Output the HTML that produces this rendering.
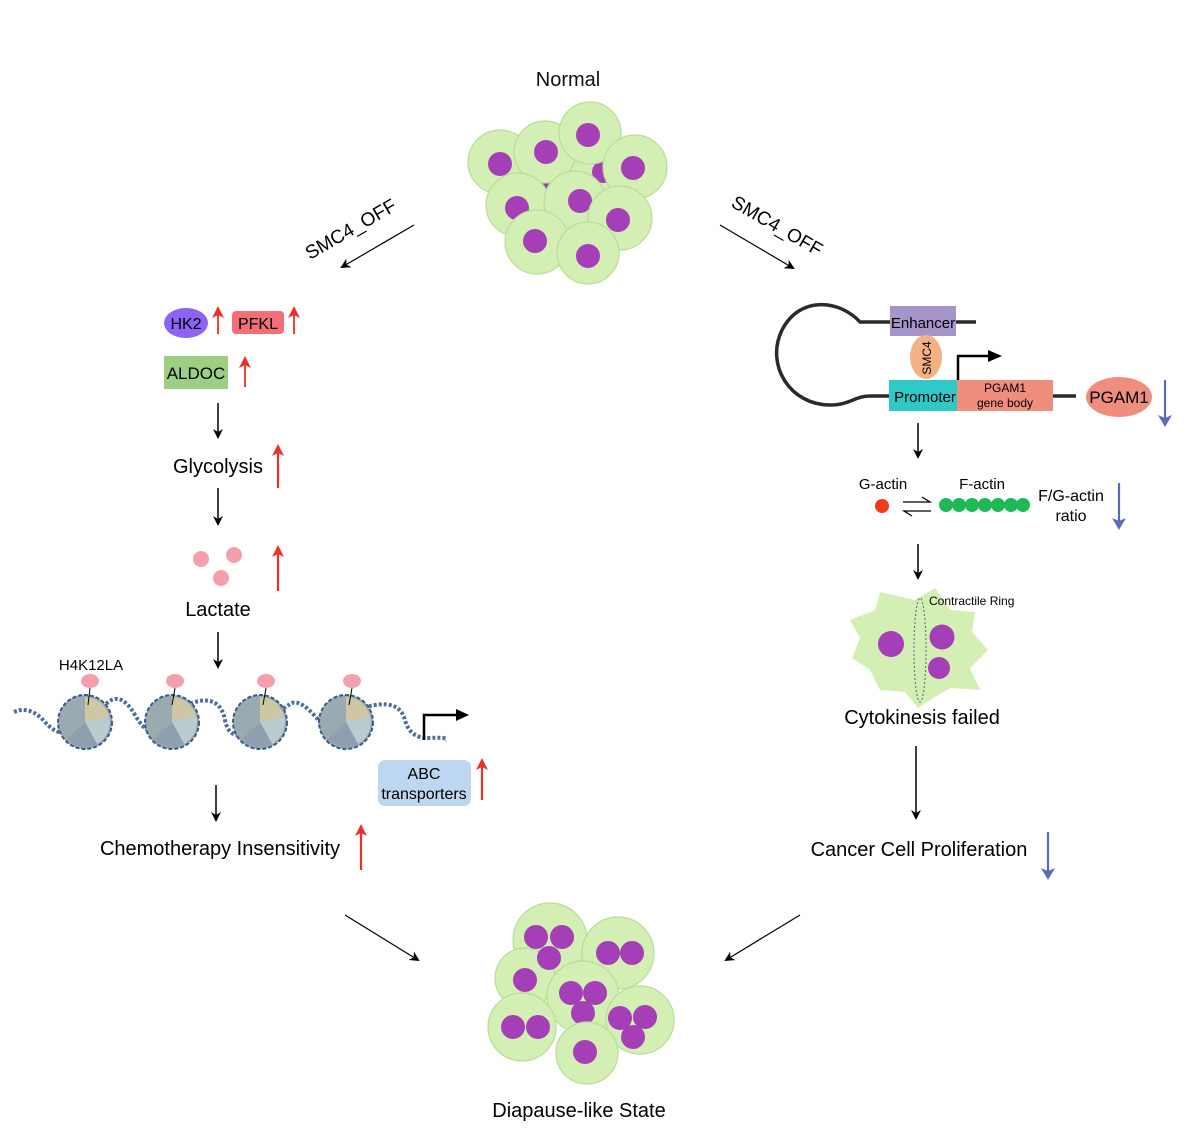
<!DOCTYPE html>
<html><head><meta charset="utf-8"><style>
html,body{margin:0;padding:0;background:#fff}
svg{display:block;font-family:"Liberation Sans",Arial,sans-serif}
</style></head><body>
<svg width="1191" height="1129" viewBox="0 0 1191 1129" xmlns="http://www.w3.org/2000/svg">
<defs>
<marker id="ab" markerWidth="10" markerHeight="10" refX="8" refY="5" orient="auto" markerUnits="userSpaceOnUse"><path d="M0,0 L10,5 L0,10 L3,5 z" fill="#000"/></marker>
<marker id="ar" markerWidth="12" markerHeight="12" refX="10" refY="6" orient="auto" markerUnits="userSpaceOnUse"><path d="M0,0 L12,6 L0,12 L3,6 z" fill="#e8322c"/></marker>
<marker id="abl" markerWidth="12" markerHeight="14" refX="10" refY="7" orient="auto" markerUnits="userSpaceOnUse"><path d="M0,0 L12,7 L0,14 L3,7 z" fill="#5b6bb8"/></marker>
</defs>
<g font-size="20" fill="#111">
<text x="568" y="86" text-anchor="middle">Normal</text>
</g>
<!-- top cluster -->
<g stroke="#b9dc98" stroke-width="1.2" fill="#d3efb4">
<circle cx="550" cy="185" r="30"/><circle cx="597" cy="172" r="30"/>
</g>
<g fill="#a43fb7"><circle cx="553" cy="185" r="11"/><circle cx="603" cy="172" r="11"/></g>
<g stroke="#b9dc98" stroke-width="1.2">
<g><circle cx="500" cy="162" r="32" fill="#d3efb4"/><circle cx="500" cy="164" r="12" fill="#a43fb7" stroke="none"/></g>
<g><circle cx="545" cy="152" r="31" fill="#d3efb4"/><circle cx="546" cy="152" r="12" fill="#a43fb7" stroke="none"/></g>
<g><circle cx="590" cy="133" r="31" fill="#d3efb4"/><circle cx="588" cy="135" r="12" fill="#a43fb7" stroke="none"/></g>
<g><circle cx="635" cy="167" r="32" fill="#d3efb4"/><circle cx="633" cy="168" r="12" fill="#a43fb7" stroke="none"/></g>
<g><circle cx="518" cy="205" r="32" fill="#d3efb4"/><circle cx="517" cy="208" r="12" fill="#a43fb7" stroke="none"/></g>
<g><circle cx="575" cy="202" r="31" fill="#d3efb4"/><circle cx="580" cy="201" r="12" fill="#a43fb7" stroke="none"/></g>
<g><circle cx="620" cy="218" r="32" fill="#d3efb4"/><circle cx="618" cy="220" r="12" fill="#a43fb7" stroke="none"/></g>
<g><circle cx="537" cy="242" r="32" fill="#d3efb4"/><circle cx="535" cy="241" r="12" fill="#a43fb7" stroke="none"/></g>
<g><circle cx="588" cy="253" r="31" fill="#d3efb4"/><circle cx="588" cy="256" r="12" fill="#a43fb7" stroke="none"/></g>
</g>
<!-- SMC4_OFF arrows -->
<line x1="414" y1="225" x2="342" y2="267" stroke="#000" stroke-width="1.2" marker-end="url(#ab)"/>
<text x="0" y="0" font-size="19" transform="translate(310,260) rotate(-30)">SMC4_OFF</text>
<line x1="720" y1="225" x2="793" y2="268" stroke="#000" stroke-width="1.2" marker-end="url(#ab)"/>
<text x="0" y="0" font-size="19" transform="translate(730,206) rotate(30)">SMC4_OFF</text>

<!-- left column -->
<ellipse cx="186" cy="323" rx="22" ry="15" fill="#8b63f5"/>
<text x="186" y="329" font-size="16" text-anchor="middle">HK2</text>
<rect x="232" y="311" width="52" height="23" rx="4" fill="#f36f77"/>
<text x="258" y="329" font-size="16" text-anchor="middle">PFKL</text>
<rect x="164" y="356" width="64" height="33" fill="#9ccf84"/>
<text x="196" y="379" font-size="17" text-anchor="middle">ALDOC</text>
<g stroke="#e8322c" stroke-width="1.8">
<line x1="218" y1="334" x2="218" y2="308" marker-end="url(#ar)"/>
<line x1="294" y1="334" x2="294" y2="308" marker-end="url(#ar)"/>
<line x1="245" y1="387" x2="245" y2="358" marker-end="url(#ar)"/>
</g>
<g stroke="#000" stroke-width="1.5">
<line x1="218" y1="403" x2="218" y2="437" marker-end="url(#ab)"/>
<line x1="218" y1="488" x2="218" y2="524" marker-end="url(#ab)"/>
<line x1="218" y1="632" x2="218" y2="667" marker-end="url(#ab)"/>
<line x1="216" y1="785" x2="216" y2="820" marker-end="url(#ab)"/>
</g>
<text x="218" y="473" font-size="20" text-anchor="middle">Glycolysis</text>
<g stroke="#e8322c" stroke-width="2.2">
<line x1="278" y1="488" x2="278" y2="446" marker-end="url(#ar)"/>
<line x1="278" y1="591" x2="278" y2="547" marker-end="url(#ar)"/>
<line x1="482" y1="800" x2="482" y2="760" marker-end="url(#ar)"/>
<line x1="361" y1="870" x2="361" y2="826" marker-end="url(#ar)"/>
</g>
<g fill="#f3a0ac"><circle cx="201" cy="559" r="8"/><circle cx="234" cy="555" r="8"/><circle cx="221" cy="578" r="8"/></g>
<text x="218" y="616" font-size="20" text-anchor="middle">Lactate</text>
<text x="91" y="670" font-size="15" text-anchor="middle">H4K12LA</text>
<!-- DNA -->
<path d="M14,712 Q30,705 45,722 T75,730 T105,705 T135,715 T160,725 T195,702 T225,720 T255,728 T290,704 T320,722 T345,728 T375,705 T405,720 T430,738 T445,740" fill="none" stroke="#4f6f9a" stroke-width="4" stroke-dasharray="3 2"/>
<g>
<g transform="translate(85,722)"><circle r="27" fill="#9aaab0" stroke="#3a5a8a" stroke-width="2" stroke-dasharray="4 2"/><path d="M0,-25 A25,25 0 0 1 24,-6 L0,0z" fill="#cfc7a4"/><path d="M24,-6 A25,25 0 0 1 12,22 L0,0z" fill="#bccbd0"/><path d="M12,22 A25,25 0 0 1 -18,17 L0,0z" fill="#8f9fb0"/></g>
<g transform="translate(172,722)"><circle r="27" fill="#9aaab0" stroke="#3a5a8a" stroke-width="2" stroke-dasharray="4 2"/><path d="M0,-25 A25,25 0 0 1 24,-6 L0,0z" fill="#cfc7a4"/><path d="M24,-6 A25,25 0 0 1 12,22 L0,0z" fill="#bccbd0"/><path d="M12,22 A25,25 0 0 1 -18,17 L0,0z" fill="#8f9fb0"/></g>
<g transform="translate(260,722)"><circle r="27" fill="#9aaab0" stroke="#3a5a8a" stroke-width="2" stroke-dasharray="4 2"/><path d="M0,-25 A25,25 0 0 1 24,-6 L0,0z" fill="#cfc7a4"/><path d="M24,-6 A25,25 0 0 1 12,22 L0,0z" fill="#bccbd0"/><path d="M12,22 A25,25 0 0 1 -18,17 L0,0z" fill="#8f9fb0"/></g>
<g transform="translate(346,722)"><circle r="27" fill="#9aaab0" stroke="#3a5a8a" stroke-width="2" stroke-dasharray="4 2"/><path d="M0,-25 A25,25 0 0 1 24,-6 L0,0z" fill="#cfc7a4"/><path d="M24,-6 A25,25 0 0 1 12,22 L0,0z" fill="#bccbd0"/><path d="M12,22 A25,25 0 0 1 -18,17 L0,0z" fill="#8f9fb0"/></g>
</g>
<g fill="#f3a0ac"><ellipse cx="90" cy="681" rx="9" ry="7"/><ellipse cx="175" cy="681" rx="9" ry="7"/><ellipse cx="266" cy="681" rx="9" ry="7"/><ellipse cx="352" cy="681" rx="9" ry="7"/></g>
<g stroke="#000" stroke-width="1"><line x1="90" y1="688" x2="88" y2="705"/><line x1="175" y1="688" x2="172" y2="705"/><line x1="266" y1="688" x2="263" y2="705"/><line x1="352" y1="688" x2="349" y2="705"/></g>
<path d="M424,740 V715 H458" fill="none" stroke="#000" stroke-width="2.5"/>
<path d="M456,709 L469,715 L456,721z" fill="#000"/>
<rect x="378" y="760" width="93" height="46" rx="7" fill="#bcd7ef"/>
<text x="424" y="779" font-size="16" text-anchor="middle">ABC</text>
<text x="424" y="799" font-size="16" text-anchor="middle">transporters</text>
<text x="220" y="855" font-size="20" text-anchor="middle">Chemotherapy Insensitivity</text>

<!-- right column -->
<path d="M890,322 H860 C840,300 800,295 782,330 C765,365 790,405 830,405 C850,405 855,396 870,396 H890" fill="none" stroke="#2a2a2a" stroke-width="3.5"/>
<line x1="955" y1="322" x2="976" y2="322" stroke="#2a2a2a" stroke-width="3.5"/>
<line x1="1052" y1="396" x2="1076" y2="396" stroke="#2a2a2a" stroke-width="3.5"/>
<rect x="890" y="306" width="66" height="30" fill="#a595cb"/>
<text x="923" y="328" font-size="15" text-anchor="middle">Enhancer</text>
<ellipse cx="926" cy="357" rx="16" ry="22" fill="#f4b183"/>
<text x="0" y="0" font-size="12" text-anchor="middle" transform="translate(931,358) rotate(-90)">SMC4</text>
<rect x="889" y="380" width="69" height="31" fill="#2fc9c8"/>
<text x="925" y="402" font-size="15" text-anchor="middle">Promoter</text>
<rect x="957" y="380" width="96" height="31" fill="#ef8e7d"/>
<text x="1005" y="392" font-size="12" text-anchor="middle">PGAM1</text>
<text x="1005" y="407" font-size="12" text-anchor="middle">gene body</text>
<path d="M958,380 V356 H990" fill="none" stroke="#000" stroke-width="2.5"/>
<path d="M988,350 L1002,356 L988,362z" fill="#000"/>
<ellipse cx="1119" cy="397" rx="33" ry="20" fill="#ef8e7d"/>
<text x="1119" y="403" font-size="17" text-anchor="middle">PGAM1</text>
<g stroke="#5b6bb8" stroke-width="2.2">
<line x1="1165" y1="380" x2="1165" y2="425" marker-end="url(#abl)"/>
<line x1="1119" y1="483" x2="1119" y2="528" marker-end="url(#abl)"/>
<line x1="1048" y1="832" x2="1048" y2="878" marker-end="url(#abl)"/>
</g>
<g stroke="#000" stroke-width="1.5">
<line x1="918" y1="423" x2="918" y2="457" marker-end="url(#ab)"/>
<line x1="918" y1="544" x2="918" y2="578" marker-end="url(#ab)"/>
<line x1="916" y1="746" x2="916" y2="818" marker-end="url(#ab)"/>
</g>
<text x="883" y="489" font-size="15" text-anchor="middle">G-actin</text>
<text x="982" y="489" font-size="15" text-anchor="middle">F-actin</text>
<circle cx="882" cy="506" r="7" fill="#f03a1a"/>
<path d="M903,502 H930 L922,497 M931,511 H904 L912,516" fill="none" stroke="#000" stroke-width="1.3"/>
<g fill="#1db954"><circle cx="946" cy="505" r="7"/><circle cx="959" cy="505" r="7"/><circle cx="972" cy="505" r="7"/><circle cx="985" cy="505" r="7"/><circle cx="998" cy="505" r="7"/><circle cx="1011" cy="505" r="7"/><circle cx="1023" cy="505" r="7"/></g>
<text x="1071" y="501" font-size="16" text-anchor="middle">F/G-actin</text>
<text x="1071" y="521" font-size="16" text-anchor="middle">ratio</text>
<path d="M880,592 L915,600 L935,588 L950,610 L975,612 L972,632 L988,650 L970,668 L980,690 L950,688 L930,700 L918,708 L905,692 L880,690 L870,670 L852,658 L860,638 L850,620 L875,610 z" fill="#d3efb4"/>
<ellipse cx="920" cy="650" rx="6" ry="52" fill="none" stroke="#777" stroke-width="1.2" stroke-dasharray="2 2"/>
<g fill="#a43fb7"><circle cx="891" cy="644" r="13"/><circle cx="942" cy="637" r="12.5"/><circle cx="939" cy="668" r="11"/></g>
<text x="929" y="605" font-size="12">Contractile Ring</text>
<text x="922" y="724" font-size="20" text-anchor="middle">Cytokinesis failed</text>
<text x="919" y="856" font-size="20" text-anchor="middle">Cancer Cell Proliferation</text>

<!-- converging arrows -->
<line x1="345" y1="915" x2="418" y2="960" stroke="#000" stroke-width="1.2" marker-end="url(#ab)"/>
<line x1="800" y1="915" x2="726" y2="960" stroke="#000" stroke-width="1.2" marker-end="url(#ab)"/>

<!-- bottom cluster -->
<g stroke="#b9dc98" stroke-width="1.2" fill="#d3efb4">
<circle cx="550" cy="940" r="37"/>
<circle cx="618" cy="953" r="36"/>
<circle cx="525" cy="978" r="30"/>
</g>
<g fill="#a43fb7"><circle cx="536" cy="937" r="12"/><circle cx="562" cy="937" r="12"/><circle cx="549" cy="958" r="12"/><circle cx="608" cy="953" r="12"/><circle cx="632" cy="953" r="12"/><circle cx="525" cy="980" r="12"/></g>
<g stroke="#b9dc98" stroke-width="1.2" fill="#d3efb4">
<circle cx="583" cy="997" r="36"/><circle cx="640" cy="1020" r="34"/>
</g>
<g fill="#a43fb7"><circle cx="571" cy="993" r="12"/><circle cx="595" cy="993" r="12"/><circle cx="583" cy="1013" r="12"/><circle cx="620" cy="1018" r="12"/><circle cx="645" cy="1017" r="12"/><circle cx="633" cy="1037" r="12"/></g>
<g stroke="#b9dc98" stroke-width="1.2" fill="#d3efb4">
<circle cx="522" cy="1027" r="34"/><circle cx="587" cy="1053" r="31"/>
</g>
<g fill="#a43fb7"><circle cx="513" cy="1027" r="12"/><circle cx="538" cy="1027" r="12"/><circle cx="585" cy="1052" r="12"/></g>
<text x="579" y="1117" font-size="20" text-anchor="middle">Diapause-like State</text>
</svg>
</body></html>
